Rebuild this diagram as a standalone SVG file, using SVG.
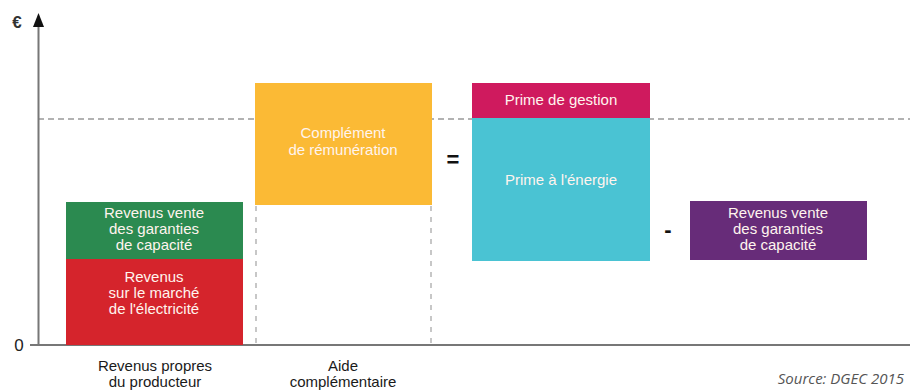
<svg xmlns="http://www.w3.org/2000/svg" width="910" height="392" viewBox="0 0 910 392">
<style>
.bt{font-family:"Liberation Sans",Arial,sans-serif;font-size:15px;fill:#fff4ee;text-anchor:middle}
.lb{font-family:"Liberation Sans",Arial,sans-serif;font-size:15px;fill:#1a1a1a;text-anchor:middle}
.ax{stroke:#777;stroke-width:2;fill:none}
.dash{stroke:#999;stroke-width:1.3;stroke-dasharray:6,4;fill:none}
.vdash{stroke:#aaa;stroke-width:1.3;stroke-dasharray:5,6;fill:none}
.op{font-family:"Liberation Sans",Arial,sans-serif;font-size:22px;font-weight:bold;fill:#111;text-anchor:middle}
</style>
<rect width="910" height="392" fill="#fff"/>
<g id="axes">
<line class="dash" x1="38" y1="119" x2="910" y2="119"/>
<line class="vdash" x1="256" y1="206" x2="256" y2="345"/>
<line class="vdash" x1="431" y1="206" x2="431" y2="345"/>
<line class="ax" x1="38.5" y1="345" x2="38.5" y2="26"/>
<polygon points="33,27 38.5,13 44,27" fill="#111"/>
<line class="ax" x1="30" y1="345" x2="910" y2="345"/>
<text x="17" y="28" font-family="Liberation Sans,Arial,sans-serif" font-size="17" font-weight="bold" fill="#333" text-anchor="middle">€</text>
<text x="19" y="351" font-family="Liberation Sans,Arial,sans-serif" font-size="17" fill="#222" text-anchor="middle">0</text>
</g>
<g id="green">
<rect x="66" y="202" width="177" height="57" fill="#2b8a50"/>
<text class="bt" x="154" y="218">Revenus vente</text>
<text class="bt" x="154" y="234">des garanties</text>
<text class="bt" x="154" y="250">de capacité</text>
</g>
<g id="red">
<rect x="66" y="259" width="177" height="86" fill="#d5242c"/>
<text class="bt" x="154" y="282">Revenus</text>
<text class="bt" x="154" y="298">sur le marché</text>
<text class="bt" x="154" y="314">de l'électricité</text>
</g>
<g id="orange">
<rect x="255" y="83" width="177" height="122" fill="#fbba35"/>
<text class="bt" x="343" y="138">Complément</text>
<text class="bt" x="343" y="155">de rémunération</text>
</g>
<g id="magenta">
<rect x="472" y="83" width="178" height="35" fill="#cf1a5e"/>
<text class="bt" x="561" y="105">Prime de gestion</text>
</g>
<g id="cyan">
<rect x="472" y="118" width="178" height="143" fill="#4ac3d3"/>
<text class="bt" x="561" y="185">Prime à l'énergie</text>
</g>
<g id="purple">
<rect x="690" y="201" width="177" height="59" fill="#672c79"/>
<text class="bt" x="778" y="218">Revenus vente</text>
<text class="bt" x="778" y="234">des garanties</text>
<text class="bt" x="778" y="250">de capacité</text>
</g>
<g id="operators">
<text class="op" x="453" y="167">=</text>
<text class="op" x="668" y="237">-</text>
</g>
<g id="labels">
<text class="lb" x="155" y="371">Revenus propres</text>
<text class="lb" x="155" y="387">du producteur</text>
<text class="lb" x="343" y="371">Aide</text>
<text class="lb" x="343" y="387">complémentaire</text>
<text x="904" y="384" font-family="Open Sans,Liberation Sans,sans-serif" font-size="15" font-style="italic" fill="#555" text-anchor="end">Source: DGEC 2015</text>
</g>
</svg>
